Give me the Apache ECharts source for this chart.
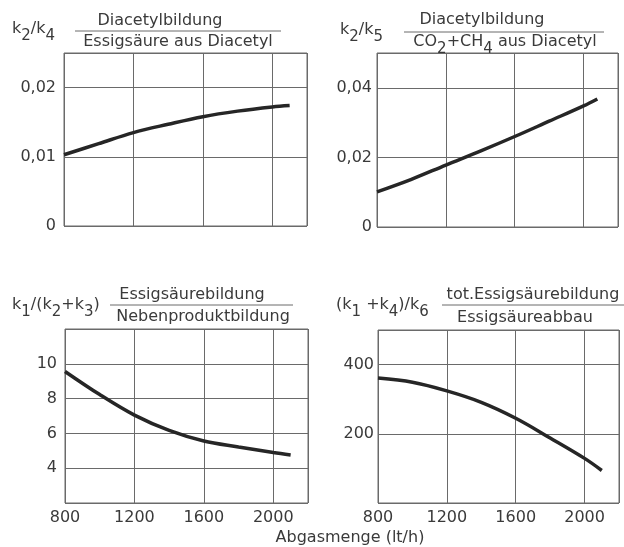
<!DOCTYPE html>
<html>
<head>
<meta charset="utf-8">
<script src="https://cdn.jsdelivr.net/npm/echarts@6/dist/echarts.min.js"></script>
<style>html,body{margin:0;padding:0;background:#fff}#c{width:624px;height:547px}</style>
</head>
<body>
<div id="c"></div>
<script>
// x values (Abgasmenge lt/h)
const xTL = [800, 1000, 1200, 1400, 1600, 1800, 2000, 2100];
const yTL = [0.0103, 0.0119, 0.0135, 0.0147, 0.0158, 0.0166, 0.0172, 0.0174];
const xTR = [800, 1000, 1200, 1400, 1600, 1800, 2000, 2080];
const yTR = [0.0101, 0.0137, 0.0178, 0.0218, 0.026, 0.0304, 0.0348, 0.0368];
const xBL = [800, 1000, 1200, 1400, 1600, 1800, 2000, 2100];
const yBL = [9.56, 8.23, 7.05, 6.17, 5.56, 5.22, 4.9, 4.76];
const xBR = [800, 1000, 1200, 1400, 1600, 1800, 2000, 2100];
const yBR = [361, 349, 324, 291, 245, 188, 129, 94];
const xTicks = [800, 1200, 1600, 2000];

const FONT = '"DejaVu Sans", sans-serif';
const TXT = '#3a3a3a';
const LINE = '#6a6a6a';

function pairs(xs, ys) { return xs.map((x, i) => [x, ys[i]]); }

const grids = [
  {left: 64, top: 53, width: 243, height: 173},
  {left: 377, top: 53, width: 241, height: 174},
  {left: 65, top: 329, width: 243, height: 174},
  {left: 378, top: 330, width: 241, height: 173}
];

const yCfg = [
  {min: 0, max: 0.025, interval: 0.01, margin: 8, hideMin: false},
  {min: 0, max: 0.05, interval: 0.02, margin: 5, hideMin: false},
  {min: 2, max: 12, interval: 2, margin: 8, hideMin: true},
  {min: 0, max: 500, interval: 200, margin: 4, hideMin: true}
];

const xAxes = grids.map((g, i) => ({
  type: 'value', gridIndex: i, min: 800, max: 2200, interval: 400,
  axisLine: {show: false}, axisTick: {show: false},
  splitLine: {show: true, lineStyle: {color: LINE, width: 1}},
  axisLabel: {
    show: i >= 2, showMaxLabel: false, margin: 7,
    color: TXT, fontFamily: FONT, fontSize: 16,
    formatter: v => xTicks.includes(v) ? String(v) : ''
  }
}));

const yAxes = yCfg.map((c, i) => ({
  type: 'value', gridIndex: i, min: c.min, max: c.max, interval: c.interval,
  axisLine: {show: false}, axisTick: {show: false},
  splitLine: {show: true, lineStyle: {color: LINE, width: 1}},
  axisLabel: {
    showMaxLabel: false, showMinLabel: !c.hideMin, margin: c.margin,
    color: TXT, fontFamily: FONT, fontSize: 16,
    formatter: v => String(+v.toFixed(4)).replace('.', ',')
  }
}));

const data = [pairs(xTL, yTL), pairs(xTR, yTR), pairs(xBL, yBL), pairs(xBR, yBR)];
const series = data.map((d, i) => ({
  type: 'line', xAxisIndex: i, yAxisIndex: i, data: d, smooth: 0.35,
  symbol: 'none', lineStyle: {color: '#262626', width: 3.5}, z: 5
}));

const rich = {
  n: {fontFamily: FONT, fontSize: 16, fill: TXT, color: TXT, lineHeight: 20},
  m: {fontFamily: FONT, fontSize: 16, fill: TXT, color: TXT, lineHeight: 16, verticalAlign: 'top'},
  s: {fontFamily: FONT, fontSize: 15, fill: TXT, color: TXT, lineHeight: 23, verticalAlign: 'bottom'}
};
function txt(x, y, text, align) {
  return {
    type: 'text', x: x, y: y, silent: true,
    style: {text: text, rich: rich, textAlign: align || 'center', textVerticalAlign: 'middle',
      font: '16px ' + FONT, fill: TXT}
  };
}
function hline(x1, x2, y) {
  return {type: 'line', silent: true, shape: {x1: x1, y1: y, x2: x2, y2: y},
    style: {stroke: LINE, lineWidth: 1}};
}

const graphic = [
  txt(12, 32, '{m|k}{s|2}{m|/k}{s|4}', 'left'),
  txt(160, 21, '{n|Diacetylbildung}'),
  hline(75, 281, 31),
  txt(178, 42, '{n|Essigsäure aus Diacetyl}'),

  txt(340, 33, '{m|k}{s|2}{m|/k}{s|5}', 'left'),
  txt(482, 20, '{n|Diacetylbildung}'),
  hline(404, 604, 32),
  txt(505, 45, '{m|CO}{s|2}{m|+CH}{s|4}{m| aus Diacetyl}'),

  txt(12, 308, '{m|k}{s|1}{m|/(k}{s|2}{m|+k}{s|3}{m|)}', 'left'),
  txt(192, 295, '{n|Essigsäurebildung}'),
  hline(110, 293, 305),
  txt(203, 317, '{n|Nebenproduktbildung}'),

  txt(336, 308, '{m|(k}{s|1}{m| +k}{s|4}{m|)/k}{s|6}', 'left'),
  txt(533, 295, '{n|tot.Essigsäurebildung}'),
  hline(442, 624, 305),
  txt(525, 318, '{n|Essigsäureabbau}'),

  txt(350, 538, '{n|Abgasmenge (lt/h)}')
];

const chart = echarts.init(document.getElementById('c'), null, {renderer: 'canvas'});
chart.setOption({
  backgroundColor: '#fff',
  animation: false,
  grid: grids.map(g => Object.assign({show: true, borderColor: LINE, borderWidth: 1, containLabel: false}, g)),
  xAxis: xAxes,
  yAxis: yAxes,
  series: series,
  graphic: graphic
});
</script>
</body>
</html>
